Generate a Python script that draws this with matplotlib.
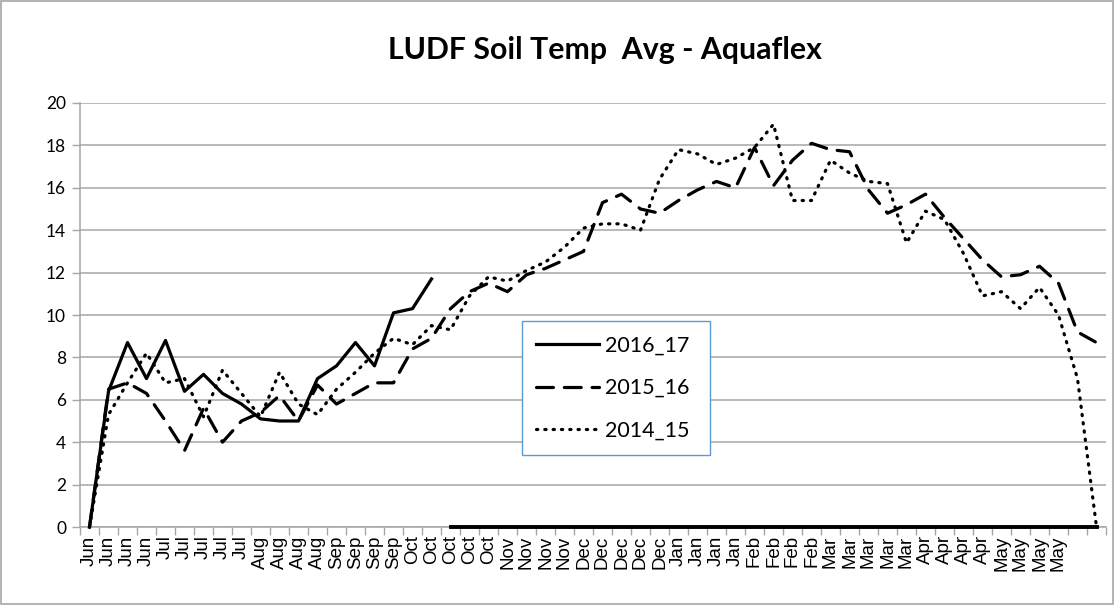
import matplotlib
matplotlib.use("Agg")
import matplotlib.pyplot as plt
from matplotlib.lines import Line2D
from matplotlib.patches import Rectangle
from matplotlib.ticker import MultipleLocator, FixedLocator

# weekly category labels (52 weeks + 2 unlabelled)
weeks = (["Jun"] * 4 + ["Jul"] * 5 + ["Aug"] * 4 + ["Sep"] * 4 + ["Oct"] * 5
         + ["Nov"] * 4 + ["Dec"] * 5 + ["Jan"] * 4 + ["Feb"] * 4
         + ["Mar"] * 5 + ["Apr"] * 4 + ["May"] * 4 + ["", ""])

# 2016_17 season so far, then the zero tail
temp_2016_17 = [0, 6.4, 8.7, 7.0, 8.8, 6.4, 7.2, 6.3, 5.8, 5.1, 5.0, 5.0,
                7.0, 7.6, 8.7, 7.6, 10.1, 10.3, 11.7]
temp_2016_17_tail = [0, 0, 0, 0, 0, 0, 0, 0, 0, 0, 0, 0, 0, 0, 0, 0, 0, 0,
                     0, 0, 0, 0, 0, 0, 0, 0, 0, 0, 0, 0, 0, 0, 0, 0, 0]

temp_2015_16 = [0, 6.5, 6.8, 6.3, 5.0, 3.6, 5.6, 4.0, 5.0, 5.4, 6.2, 5.0,
                6.7, 5.8, 6.3, 6.8, 6.8, 8.4, 8.9, 10.3, 11.1, 11.5, 11.1,
                11.9, 12.2, 12.6, 13.0, 15.3, 15.7, 15.0, 14.8, 15.4, 15.9,
                16.3, 16.0, 17.9, 16.1, 17.3, 18.1, 17.8, 17.7, 15.9, 14.8,
                15.2, 15.7, 14.6, 13.6, 12.6, 11.8, 11.9, 12.3, 11.5, 9.2, 8.7]

temp_2014_15 = [0, 5.3, 6.8, 8.2, 6.8, 7.0, 5.2, 7.4, 6.3, 5.2, 7.3, 5.8,
                5.3, 6.5, 7.3, 8.2, 8.9, 8.6, 9.5, 9.3, 10.9, 11.8, 11.6,
                12.1, 12.5, 13.2, 14.1, 14.3, 14.3, 14.0, 16.4, 17.8, 17.6,
                17.1, 17.4, 17.9, 19.0, 15.4, 15.4, 17.3, 16.7, 16.3, 16.2,
                13.4, 14.9, 14.5, 12.9, 10.9, 11.1, 10.3, 11.3, 10.0, 7.0, 0]

plt.rcParams["font.family"] = ["Lato", "DejaVu Sans"]

fig = plt.figure(figsize=(11.15, 6.05), dpi=100)
ax = fig.add_axes([80 / 1115, 1 - 527 / 605, 1026 / 1115, 424 / 605])

lw = 2.3
dash = (0, (5.3, 3.4))
dot = (0, (0.4, 2.2))

x_all = list(range(len(weeks)))
ax.plot(x_all[:len(temp_2016_17)], temp_2016_17, color="black", lw=lw,
        clip_on=False, zorder=4)
ax.plot(x_all[len(temp_2016_17):], temp_2016_17_tail, color="black",
        lw=lw + 0.5, clip_on=False, zorder=4)
ax.plot(x_all, temp_2015_16, color="black", lw=lw, linestyle=dash,
        dash_capstyle="round", clip_on=False, zorder=3)
ax.plot(x_all, temp_2014_15, color="black", lw=lw, linestyle=dot,
        dash_capstyle="round", clip_on=False, zorder=3)

ax.set_xlim(-0.5, len(weeks) - 0.5)
ax.set_ylim(0, 20)
ax.yaxis.set_major_locator(MultipleLocator(2))
ax.grid(axis="y", color="#a6a6a6", lw=1.1)
ax.set_axisbelow(True)

ax.set_xticks(x_all)
ax.set_xticklabels(weeks, rotation=90, fontsize=13.5,
                   fontfamily=["Liberation Sans", "DejaVu Sans"])
ax.tick_params(axis="x", which="major", length=0, pad=6)
ax.xaxis.set_minor_locator(FixedLocator([i - 0.5 for i in range(len(weeks) + 1)]))
ax.tick_params(axis="x", which="minor", length=6, color="#a6a6a6", width=1)
ax.tick_params(axis="y", length=6, color="#a6a6a6", width=1, labelsize=12.5, pad=4)

for side in ("top", "right"):
    ax.spines[side].set_visible(False)
for side in ("left", "bottom"):
    ax.spines[side].set_color("#a6a6a6")
    ax.spines[side].set_linewidth(1.1)

handles = [
    Line2D([], [], color="black", lw=lw),
    Line2D([], [], color="black", lw=lw, linestyle=dash, dash_capstyle="round"),
    Line2D([], [], color="black", lw=lw, linestyle=dot, dash_capstyle="round"),
]
leg = ax.legend(handles, ["2016_17", "2015_16", "2014_15"],
                loc="lower left", bbox_to_anchor=(0.431, 0.17, 0.183, 0.325),
                mode="expand", borderaxespad=0, fontsize=15.5,
                handlelength=2.9, handletextpad=0.3, labelspacing=1.05,
                borderpad=0.66, fancybox=False, framealpha=1)
leg.get_frame().set_edgecolor("#5b9bd5")
leg.get_frame().set_linewidth(1.0)

fig.text(605 / 1115, 1 - 50 / 605, "LUDF Soil Temp  Avg - Aquaflex",
         ha="center", va="center", fontsize=21.8, fontweight="bold")

fig.patches.append(Rectangle((0.001, 0.002), 0.997, 0.996,
                             transform=fig.transFigure, fill=False,
                             edgecolor="#a6a6a6", lw=1.2))

fig.savefig("out.png", dpi=100)
